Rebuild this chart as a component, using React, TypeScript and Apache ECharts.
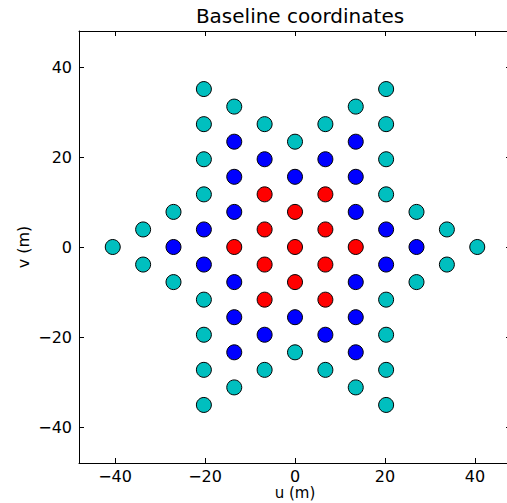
import React, { useEffect, useRef } from "react";
import * as echarts from "echarts";

// Baseline coordinates (u, v) in metres
const cyanPoints: [number, number][] = [
  [-40.5, 0], [40.5, 0],
  [-33.75, 3.9], [-33.75, -3.9], [33.75, 3.9], [33.75, -3.9],
  [-27, 7.8], [-27, -7.8], [27, 7.8], [27, -7.8],
  [-20.25, 35.1], [-20.25, 27.3], [-20.25, 19.5], [-20.25, 11.7],
  [-20.25, -11.7], [-20.25, -19.5], [-20.25, -27.3], [-20.25, -35.1],
  [20.25, 35.1], [20.25, 27.3], [20.25, 19.5], [20.25, 11.7],
  [20.25, -11.7], [20.25, -19.5], [20.25, -27.3], [20.25, -35.1],
  [-13.5, 31.2], [-13.5, -31.2], [13.5, 31.2], [13.5, -31.2],
  [-6.75, 27.3], [-6.75, -27.3], [6.75, 27.3], [6.75, -27.3],
  [0, 23.4], [0, -23.4],
];

const bluePoints: [number, number][] = [
  [-27, 0], [27, 0],
  [-20.25, 3.9], [-20.25, -3.9], [20.25, 3.9], [20.25, -3.9],
  [-13.5, 23.4], [-13.5, 15.6], [-13.5, 7.8], [-13.5, -7.8], [-13.5, -15.6], [-13.5, -23.4],
  [13.5, 23.4], [13.5, 15.6], [13.5, 7.8], [13.5, -7.8], [13.5, -15.6], [13.5, -23.4],
  [-6.75, 19.5], [-6.75, -19.5], [6.75, 19.5], [6.75, -19.5],
  [0, 15.6], [0, -15.6],
];

const redPoints: [number, number][] = [
  [-13.5, 0], [13.5, 0],
  [-6.75, 11.7], [-6.75, 3.9], [-6.75, -3.9], [-6.75, -11.7],
  [6.75, 11.7], [6.75, 3.9], [6.75, -3.9], [6.75, -11.7],
  [0, 7.8], [0, 0], [0, -7.8],
];

const axisMin = -48;
const axisMax = 48;
const tickValues = [-40, -20, 0, 20, 40];

const FONT = "DejaVu Sans";

export default function App() {
  const ref = useRef<HTMLDivElement>(null);

  useEffect(() => {
    if (!ref.current) return;
    const chart = echarts.init(ref.current, undefined, { renderer: "svg" });

    const fmt = (v: number) =>
      tickValues.includes(v) ? String(v).replace("-", "\u2212") : "";

    const baseAxis = {
      type: "value" as const,
      min: axisMin,
      max: axisMax,
      splitLine: { show: false },
      axisLine: { show: true, onZero: false, lineStyle: { color: "#000", width: 1 } },
      axisTick: {
        show: true,
        inside: true,
        length: 5,
        lineStyle: { color: "#000", width: 1 },
        customValues: tickValues,
      },
    };

    const mkSeries = (name: string, data: [number, number][], color: string) => ({
      name,
      type: "scatter" as const,
      data,
      symbol: "circle",
      symbolSize: 15,
      itemStyle: { color, borderColor: "#000", borderWidth: 1, opacity: 1 },
      emphasis: { disabled: true },
      xAxisIndex: 0,
      yAxisIndex: 0,
    });

    chart.setOption({
      animation: false,
      backgroundColor: "#fff",
      title: {
        text: "Baseline coordinates",
        left: 295,
        top: 1,
        textAlign: "center",
        textStyle: { fontFamily: FONT, fontSize: 20, fontWeight: "normal", color: "#000" },
      },
      grid: {
        left: 79,
        top: 31,
        width: 432,
        height: 432,
        containLabel: false,
        outerBoundsMode: "none",
      },
      xAxis: [
        {
          ...baseAxis,
          position: "bottom",
          name: "u (m)",
          nameLocation: "middle",
          nameGap: 22,
          nameMoveOverlap: false,
          nameTextStyle: { fontFamily: FONT, fontSize: 15, lineHeight: 16, color: "#000" },
          axisLabel: {
            show: true,
            margin: 5,
            fontFamily: FONT,
            fontSize: 16,
            lineHeight: 16,
            color: "#000",
            customValues: tickValues,
            formatter: fmt,
          },
        },
        {
          ...baseAxis,
          position: "top",
          axisLabel: { show: false },
        },
      ],
      yAxis: [
        {
          ...baseAxis,
          position: "left",
          name: "v (m)",
          nameLocation: "middle",
          nameGap: 48,
          nameRotate: 90,
          nameMoveOverlap: false,
          nameTextStyle: { fontFamily: FONT, fontSize: 16, color: "#000" },
          axisLabel: {
            show: true,
            margin: 7,
            fontFamily: FONT,
            fontSize: 16,
            color: "#000",
            customValues: tickValues,
            formatter: fmt,
          },
        },
        {
          ...baseAxis,
          position: "right",
          axisLabel: { show: false },
        },
      ],
      series: [
        mkSeries("cyan", cyanPoints, "#00BFBF"),
        mkSeries("blue", bluePoints, "#0000FF"),
        mkSeries("red", redPoints, "#FF0000"),
      ],
    });

    return () => chart.dispose();
  }, []);

  return (
    <div
      ref={ref}
      style={{
        position: "absolute",
        left: 0,
        top: 0,
        width: 507,
        height: 503,
        overflow: "hidden",
        background: "#fff",
      }}
    />
  );
}
